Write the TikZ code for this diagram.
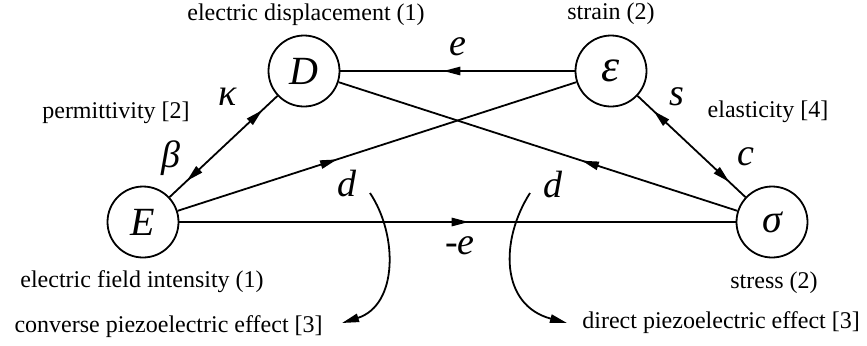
\documentclass[tikz,border=0pt]{standalone}
\usepackage{fontspec}
\setmainfont{Liberation Serif}
\usetikzlibrary{arrows.meta, decorations.markings}

\begin{document}
\begin{tikzpicture}[
x=0.5pt, y=-0.5pt,
    >={Triangle[length=8.5pt, width=4.2pt]},
    state/.style={circle, draw, line width=0.9pt, minimum size=35.5pt, inner sep=0pt, font=\fontsize{20}{24}\selectfont\itshape},
    quantity/.style={inner sep=0pt, font=\fontsize{12}{14}\selectfont},
    coef/.style={inner sep=0pt, font=\fontsize{19}{22}\selectfont\itshape},
    link/.style={draw, line width=0.9pt},
    fwd/.style={postaction={decorate}, decoration={markings, mark=at position #1 with {\arrow{>}}}},
    both/.style 2 args={postaction={decorate}, decoration={markings,
        mark=at position #1 with {\arrowreversed{>}},
        mark=at position #2 with {\arrow{>}}}},
    effect/.style={draw, line width=0.9pt, ->}
]
    \useasboundingbox (0,0) rectangle (867,345);

    % --- Field variables ---
    \node[state] (D) at (304,71) {D};
    \node[state, font=\fontsize{23}{26}\selectfont\itshape] (eps) at (611,71) {ε};
    \node[state] (E) at (143,222) {E};
    \node[state] (sig) at (772,222) {σ};

    \node[quantity] (lD) at (306,15) {electric displacement (1)};
    \node[quantity] (leps) at (611,14) {strain (2)};
    \node[quantity] (lE) at (142,282) {electric field intensity (1)};
    \node[quantity] (lsig) at (774,283) {stress (2)};

    % --- Material constants ---
    \node[quantity] (perm) at (116,113) {permittivity [2]};
    \node[quantity] (elas) at (768,112) {elasticity [4]};

    \draw[link, both={0.16}{0.86}] (E) -- (D);
    \draw[link, both={0.15}{0.85}] (eps) -- (sig);
    \node[coef] (ck) at (228,97) {κ};
    \node[coef] (cb) at (171,158) {β};
    \node[coef] (cs) at (677,97) {s};
    \node[coef] (cc) at (746,157) {c};

    % --- Coupling ---
    \draw[link, fwd=0.56] (eps) -- (D);
    \draw[link, fwd=0.40] (E) -- (eps);
    \draw[link, fwd=0.39] (sig) -- (D);
    \draw[link, fwd=0.52] (E) -- (sig);
    \node[coef] (ce) at (458,47) {e};
    \node[coef] (cme) at (460,246) {-e};
    \node[coef] (dl) at (347,184) {d};
    \node[coef] (dr) at (553,185) {d};

    % --- Piezoelectric effects ---
    \node[quantity, anchor=east] (conv) at (323,327) {converse piezoelectric effect [3]};
    \node[quantity, anchor=west] (dir) at (582,323) {direct piezoelectric effect [3]};

    \coordinate (cl) at (370,193);
    \coordinate (cr) at (530,193);
    \draw[effect] (cl) .. controls (398,235) and (398,305) .. ([shift={(19,-4)}]conv.east);
    \draw[effect] (cr) .. controls (500,240) and (500,305) .. ([shift={(-15,0)}]dir.west);

\end{tikzpicture}
\end{document}
